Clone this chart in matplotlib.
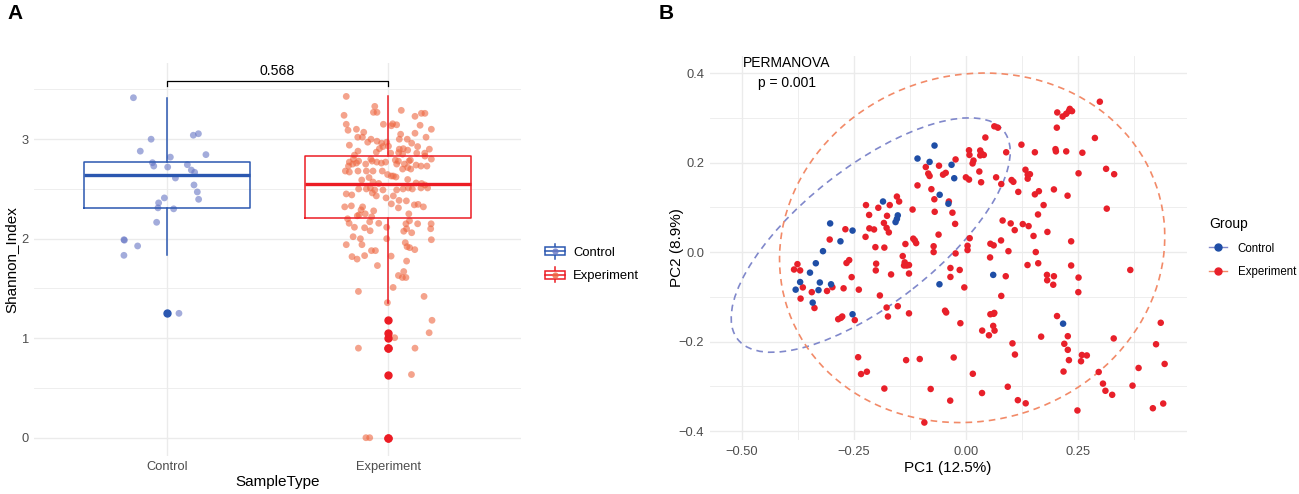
import numpy as np
import matplotlib
matplotlib.use("Agg")
import matplotlib.pyplot as plt
from matplotlib.patches import Ellipse, Rectangle, Patch
from matplotlib.lines import Line2D
from matplotlib.legend_handler import HandlerBase
from matplotlib.ticker import FuncFormatter

plt.rcParams['font.family'] = ['Liberation Sans', 'DejaVu Sans']

# ---------------- data: panel A (Shannon index) ----------------
groups = ["Control", "Experiment"]

# box statistics: (whislo, q1, med, q3, whishi)
ctrl_box = [1.833, 2.31, 2.64, 2.774, 3.417]
exp_box = [1.357, 2.208, 2.55, 2.834, 3.43]

# jittered samples: (jitter offset, Shannon index)
ctrl_pts = np.array([
    (-0.152, 3.417), (-0.072, 3.0), (-0.121, 2.88), (0.119, 3.04), (0.142, 3.055),
    (0.015, 2.82), (0.176, 2.845), (-0.066, 2.764), (-0.06, 2.73), (0.003, 2.72),
    (0.092, 2.744), (0.11, 2.69), (0.125, 2.667), (0.038, 2.61), (0.122, 2.54),
    (0.137, 2.47), (0.143, 2.396), (-0.012, 2.41), (-0.038, 2.36), (-0.041, 2.31),
    (0.03, 2.30), (-0.047, 2.165), (-0.195, 1.99), (-0.193, 1.985), (-0.133, 1.927),
    (-0.195, 1.833), (0.054, 1.25),
])

exp_pts = np.array([
    (-0.189, 3.43), (-0.060, 3.33), (-0.066, 3.27), (-0.050, 3.27), (0.060, 3.29),
    (-0.199, 3.24), (0.122, 3.23), (0.151, 3.26), (0.167, 3.26), (-0.021, 3.15),
    (0.021, 3.155), (0.039, 3.145), (0.015, 3.135), (-0.189, 3.15), (0.145, 3.14),
    (-0.181, 3.09), (-0.143, 3.10), (-0.110, 3.07), (0.196, 3.10), (0.122, 3.06),
    (-0.137, 3.02), (-0.116, 3.02), (0.057, 3.05), (0.172, 3.02), (-0.077, 3.00),
    (-0.092, 2.97), (-0.050, 2.98), (-0.029, 2.96), (-0.006, 2.97), (0.051, 3.00),
    (0.087, 3.00), (-0.175, 2.94), (0.002, 2.93), (0.107, 2.96), (-0.039, 2.905),
    (-0.023, 2.926), (0.134, 2.926), (0.051, 2.90), (0.069, 2.905), (0.089, 2.89),
    (0.187, 2.90), (-0.136, 2.88), (-0.152, 2.84), (-0.053, 2.87), (0.012, 2.86),
    (0.048, 2.865), (0.066, 2.85), (0.130, 2.86), (0.166, 2.86), (0.101, 2.79),
    (-0.157, 2.80), (0.167, 2.83), (-0.175, 2.77), (-0.078, 2.80), (0.196, 2.80),
    (-0.133, 2.78), (-0.160, 2.75), (-0.143, 2.76), (-0.179, 2.73), (-0.193, 2.68),
    (-0.175, 2.67), (-0.136, 2.68), (-0.101, 2.75), (-0.072, 2.78), (-0.051, 2.77),
    (-0.030, 2.76), (-0.011, 2.77), (0.033, 2.79), (0.047, 2.78), (0.039, 2.75),
    (0.074, 2.75), (0.095, 2.78), (0.103, 2.70), (0.127, 2.74), (0.149, 2.73),
    (0.176, 2.73), (-0.098, 2.68), (-0.068, 2.68), (-0.026, 2.68), (-0.002, 2.645),
    (0.066, 2.70), (0.089, 2.715), (0.024, 2.63), (0.015, 2.63), (0.036, 2.62),
    (-0.086, 2.615), (-0.119, 2.59), (-0.068, 2.57), (-0.042, 2.555), (0.089, 2.595),
    (0.127, 2.56), (0.152, 2.555), (0.167, 2.54), (0.149, 2.51), (0.179, 2.51),
    (-0.133, 2.50), (-0.098, 2.50), (-0.080, 2.51), (-0.060, 2.49), (-0.071, 2.46),
    (-0.023, 2.49), (0.039, 2.49), (0.068, 2.50), (0.092, 2.51), (0.110, 2.50),
    (-0.189, 2.45), (-0.164, 2.44), (-0.053, 2.43), (-0.009, 2.41), (0.024, 2.43),
    (0.050, 2.385), (0.083, 2.38), (-0.196, 2.32), (-0.166, 2.33), (-0.115, 2.32),
    (-0.122, 2.29), (0.015, 2.35), (0.047, 2.31), (0.119, 2.34), (0.136, 2.345),
    (0.160, 2.32), (-0.131, 2.24), (-0.139, 2.23), (-0.103, 2.25), (-0.074, 2.22),
    (-0.065, 2.28), (0.094, 2.25), (-0.183, 2.20), (-0.176, 2.155), (-0.083, 2.17),
    (-0.042, 2.155), (-0.152, 2.115), (-0.106, 2.11), (-0.081, 2.08), (-0.006, 2.115),
    (0.081, 2.15), (0.097, 2.18), (0.084, 2.10), (0.071, 2.075), (0.134, 2.15),
    (0.195, 2.15), (0.193, 2.10), (0.107, 2.06), (-0.158, 2.02), (-0.125, 2.00),
    (0.196, 1.99), (-0.006, 2.00), (-0.189, 1.94), (-0.118, 1.94), (0.078, 1.96),
    (0.086, 1.92), (0.098, 1.91), (0.121, 1.89), (-0.075, 1.88), (-0.057, 1.88),
    (-0.106, 1.83), (-0.163, 1.82), (-0.140, 1.795), (0.014, 1.825), (0.084, 1.775),
    (-0.048, 1.73), (0.071, 1.67), (0.047, 1.63), (0.065, 1.61), (0.081, 1.61),
    (-0.134, 1.47), (0.023, 1.51), (0.163, 1.42), (-0.003, 1.357), (0.199, 1.18),
    (0.186, 1.055), (0.030, 1.005), (-0.134, 0.90), (0.122, 0.90), (0.106, 0.635),
    (-0.100, 0.0), (-0.083, 0.0),
])

p_wilcox = "0.568"
bracket_y = 3.585

# ---------------- data: panel B (PCoA) ----------------
ctrl_pcoa = np.array([
    (-0.303, 0.064), (-0.253, 0.048), (-0.280, 0.024), (-0.319, 0.002), (-0.185, 0.113),
    (-0.157, 0.067), (-0.154, 0.074), (-0.152, 0.082), (-0.108, 0.209), (-0.081, 0.2015),
    (-0.070, 0.238), (-0.032, 0.195), (-0.026, 0.165), (-0.0585, 0.128), (-0.039, 0.108),
    (-0.335, -0.025), (-0.348, -0.046), (-0.370, -0.067), (-0.380, -0.084), (-0.326, -0.068),
    (-0.329, -0.085), (-0.301, -0.072), (-0.342, -0.113), (-0.253, -0.139), (-0.059, -0.072),
    (0.061, -0.051), (0.217, -0.160),
])

exp_pcoa = np.array([
    (0.299, 0.336), (0.204, 0.312), (0.216, 0.303), (0.224, 0.309), (0.232, 0.320),
    (0.237, 0.315), (0.230, 0.315), (0.203, 0.278), (0.0635, 0.281), (0.0715, 0.278),
    (0.0435, 0.256), (0.288, 0.255), (0.124, 0.240), (0.200, 0.230), (0.201, 0.225),
    (0.224, 0.225), (0.260, 0.222), (0.090, 0.223), (0.154, 0.223), (0.007, 0.2275),
    (0.008, 0.217), (0.032, 0.227), (0.035, 0.220), (0.040, 0.217), (0.032, 0.216),
    (0.015, 0.198), (0.017, 0.2045), (-0.023, 0.207), (-0.0895, 0.190), (-0.084, 0.1755),
    (-0.081, 0.170), (-0.060, 0.193), (-0.051, 0.173), (-0.045, 0.177), (0.030, 0.180),
    (0.0, 0.167), (0.007, 0.162), (0.034, 0.156), (0.0675, 0.167), (0.079, 0.152),
    (0.102, 0.161), (0.106, 0.157), (0.2515, 0.176), (0.313, 0.186), (0.331, 0.174),
    (0.133, 0.184), (0.138, 0.173), (0.143, 0.174), (0.138, 0.164), (0.117, 0.1345),
    (0.154, 0.129), (0.163, 0.136), (0.1965, 0.140), (0.227, 0.126), (0.3145, 0.097),
    (0.1735, 0.105), (0.161, 0.084), (-0.108, 0.149), (-0.077, 0.1405), (-0.0704, 0.118),
    (-0.0696, 0.090), (-0.038, 0.113), (-0.030, 0.088), (-0.024, 0.063), (-0.154, 0.124),
    (-0.149, 0.113), (-0.170, 0.105), (-0.176, 0.081), (-0.1955, 0.099), (-0.223, 0.105),
    (-0.216, 0.083), (-0.183, 0.065), (-0.177, 0.054), (-0.172, 0.044), (-0.2155, 0.053),
    (-0.205, 0.0505), (-0.224, 0.034), (-0.119, 0.095), (-0.1175, 0.030), (-0.114, 0.026),
    (-0.111, 0.020), (-0.135, 0.018), (-0.202, 0.011), (-0.182, 0.010), (-0.061, 0.039),
    (-0.072, 0.013), (-0.072, 0.0), (-0.269, 0.051), (-0.304, 0.028), (0.082, 0.0705),
    (0.100, 0.064), (0.127, 0.0625), (0.140, 0.058), (0.109, 0.049), (0.182, 0.045),
    (0.151, 0.036), (0.235, 0.024), (0.0785, 0.026), (0.0547, 0.0186), (0.062, 0.015),
    (0.0085, 0.031), (0.0037, 0.014), (0.0037, 0.0045), (-0.023, -0.003), (0.095, 0.002),
    (0.156, 0.0),
    (-0.3836, -0.039), (-0.376, -0.027), (-0.370, -0.041), (-0.364, -0.079), (-0.369, -0.104),
    (-0.344, -0.0896), (-0.338, -0.125), (-0.310, -0.087), (-0.298, -0.0785), (-0.2665, -0.0244),
    (-0.2605, -0.018), (-0.255, -0.056), (-0.273, -0.081), (-0.239, -0.084), (-0.285, -0.150),
    (-0.279, -0.147), (-0.276, -0.144), (-0.248, -0.152), (-0.2003, -0.026), (-0.2011, -0.041),
    (-0.167, -0.050), (-0.192, -0.097), (-0.177, -0.124), (-0.174, -0.144), (-0.152, -0.121),
    (-0.141, -0.009), (-0.1366, -0.023), (-0.138, -0.030), (-0.132, -0.030), (-0.127, -0.029),
    (-0.127, -0.048), (-0.127, -0.137), (-0.0465, -0.131), (-0.044, -0.135), (-0.0345, -0.0356),
    (-0.0345, -0.0556), (-0.0138, -0.040), (-0.0035, -0.079), (-0.0123, -0.159), (0.054, -0.012),
    (0.0547, -0.139), (0.062, -0.138), (0.0635, -0.136), (0.061, -0.165), (0.064, -0.1755),
    (0.0364, -0.1755), (0.0515, -0.186), (0.079, -0.098), (0.089, -0.054), (0.1376, -0.029),
    (0.1615, -0.025), (0.181, -0.051), (0.1815, -0.063), (0.1965, -0.054), (0.195, -0.073),
    (0.168, -0.189), (0.2035, -0.143), (0.235, -0.030), (0.2515, -0.057), (0.251, -0.0896),
    (0.367, -0.040), (0.435, -0.158), (0.330, -0.193), (0.104, -0.204), (0.1095, -0.229),
    (0.2275, -0.188), (0.2197, -0.205), (0.2275, -0.2185), (0.230, -0.2415), (0.218, -0.267),
    (0.259, -0.230), (0.270, -0.231), (0.257, -0.244), (0.2965, -0.268), (0.306, -0.294),
    (0.3115, -0.310), (0.3266, -0.319), (0.249, -0.354), (0.3855, -0.259), (0.372, -0.2985),
    (0.4174, -0.349), (0.4405, -0.3385), (0.4245, -0.206), (0.4437, -0.250), (0.116, -0.331),
    (0.1335, -0.338), (0.0935, -0.301), (0.036, -0.315), (0.0155, -0.272), (-0.035, -0.332),
    (-0.0786, -0.306), (-0.0927, -0.381), (-0.0272, -0.2356), (-0.103, -0.239), (-0.1334, -0.2415),
    (-0.182, -0.305), (-0.2405, -0.235), (-0.234, -0.2726), (-0.221, -0.2674),
])

# 95% ellipses: centre x, centre y, semi-axis a, semi-axis b, angle (deg)
ctrl_ellipse = (-0.2125, 0.038, 0.3773, 0.1526, 38.1)
exp_ellipse = (0.014, 0.0095, 0.4338, 0.3863, 16.9)

permanova_p = "0.001"
pc1_var = 12.5
pc2_var = 8.9

# ---------------- styling ----------------
box_col = {"Control": "#2B57B0", "Experiment": "#EC1C24"}
jit_col = {"Control": "#6675C4", "Experiment": "#EE6640"}
pt_col = {"Control": "#1F4EA6", "Experiment": "#E8202A"}
ell_col = {"Control": "#8088CB", "Experiment": "#F28A68"}
grid_col = "#EBEBEB"
tick_col = "#4D4D4D"


def minimal_theme(ax):
    for s in ax.spines.values():
        s.set_visible(False)
    ax.tick_params(which="both", length=0, labelsize=9.3, labelcolor=tick_col, pad=4)
    ax.grid(True, which="major", color=grid_col, lw=1.0, zorder=0)
    ax.grid(True, which="minor", color=grid_col, lw=0.6, zorder=0)
    ax.set_axisbelow(True)


class BoxKey(HandlerBase):
    def create_artists(self, legend, orig_handle, xd, yd, w, h, fs, trans):
        ec = orig_handle.get_edgecolor()
        fc = orig_handle.get_facecolor()
        x0, y0 = -xd, -yd
        cx, cy = x0 + w / 2, y0 + h / 2
        whisk = Line2D([cx, cx], [y0 - 0.3 * h, y0 + 1.3 * h], color=ec, lw=1.1, transform=trans)
        box = Rectangle((x0, y0 + 0.05 * h), w, 0.9 * h, facecolor="white", edgecolor=ec,
                        lw=1.1, transform=trans)
        med = Line2D([x0, x0 + w], [cy, cy], color=ec, lw=1.1, transform=trans)
        dot = Line2D([cx], [cy], marker="o", ms=4.5, mfc=fc, mec="none", ls="none",
                     alpha=0.8, transform=trans)
        return [whisk, box, med, dot]


fig = plt.figure(figsize=(12.99, 4.94), dpi=100)

# ---------------- panel A ----------------
ax1 = fig.add_axes([0.0265, 0.0779, 0.3743, 0.7946])
minimal_theme(ax1)

for i, (g, pts, stats) in enumerate([("Control", ctrl_pts, ctrl_box),
                                     ("Experiment", exp_pts, exp_box)]):
    pos = i + 1
    lo, q1, med, q3, hi = stats
    vals = pts[:, 1]
    fliers = vals[(vals < lo) | (vals > hi)]
    ax1.scatter(pos + pts[:, 0], vals, s=24, color=jit_col[g], alpha=0.6,
                edgecolors="none", zorder=2)
    ax1.bxp([dict(med=med, q1=q1, q3=q3, whislo=lo, whishi=hi, fliers=fliers)],
            positions=[pos], widths=0.75, showcaps=False, patch_artist=False,
            boxprops=dict(color=box_col[g], lw=1.1),
            whiskerprops=dict(color=box_col[g], lw=1.1),
            medianprops=dict(color=box_col[g], lw=2.4),
            flierprops=dict(marker="o", ms=5, mfc=box_col[g], mec=box_col[g]),
            manage_ticks=False, zorder=3)

ax1.plot([1, 1, 2, 2], [bracket_y - 0.05, bracket_y, bracket_y, bracket_y - 0.05],
         color="black", lw=0.9, zorder=4)
ax1.text(1.5, bracket_y + 0.035, p_wilcox, ha="center", va="bottom", fontsize=10.2)

ax1.set_xlim(0.4, 2.6)
ax1.set_ylim(-0.179, 3.766)
ax1.set_xticks([1, 2])
ax1.set_xticklabels(groups)
ax1.set_yticks([0, 1, 2, 3])
ax1.set_yticks([0.5, 1.5, 2.5, 3.5], minor=True)
ax1.set_xlabel("SampleType", fontsize=11)
ax1.set_ylabel("Shannon_Index", fontsize=11)
ax1.xaxis.set_label_coords(0.5, -0.05)
ax1.yaxis.set_label_coords(-0.033, 0.5)

handles1 = [Patch(edgecolor=box_col[g], facecolor=jit_col[g]) for g in groups]
fig.legend(handles1, groups, handler_map={Patch: BoxKey()}, loc="center left",
           bbox_to_anchor=(545 / 1299, 1 - 264.5 / 494), frameon=False, fontsize=9.4,
           handlelength=1.53, handleheight=0.7, handletextpad=0.62, labelspacing=0.85,
           borderpad=0, borderaxespad=0)

# ---------------- panel B ----------------
ax2 = fig.add_axes([0.5463, 0.1093, 0.3671, 0.7781])
minimal_theme(ax2)

for g, pts, ell in [("Control", ctrl_pcoa, ctrl_ellipse),
                    ("Experiment", exp_pcoa, exp_ellipse)]:
    cx, cy, a, b, ang = ell
    ax2.add_patch(Ellipse((cx, cy), 2 * a, 2 * b, angle=ang, fill=False,
                          edgecolor=ell_col[g], lw=1.2, ls=(0, (4, 3)), zorder=2))

ax2.scatter(exp_pcoa[:, 0], exp_pcoa[:, 1], s=22, color=pt_col["Experiment"],
            edgecolors="none", zorder=3)
ax2.scatter(ctrl_pcoa[:, 0], ctrl_pcoa[:, 1], s=22, color=pt_col["Control"],
            edgecolors="none", zorder=3)

ax2.text(-0.40, 0.40, "PERMANOVA\np = " + permanova_p, ha="center", va="center",
         fontsize=10, linespacing=1.5)

ax2.set_xlim(-0.572, 0.4925)
ax2.set_ylim(-0.42, 0.439)
ax2.set_xticks([-0.5, -0.25, 0.0, 0.25])
ax2.set_xticks([-0.375, -0.125, 0.125, 0.375], minor=True)
ax2.set_yticks([-0.4, -0.2, 0.0, 0.2, 0.4])
ax2.set_yticks([-0.3, -0.1, 0.1, 0.3], minor=True)
ax2.xaxis.set_major_formatter(FuncFormatter(lambda v, p: f"{v:.2f}".replace("-", "\u2212")))
ax2.yaxis.set_major_formatter(FuncFormatter(lambda v, p: f"{v:.1f}".replace("-", "\u2212")))
ax2.set_xlabel(f"PC1 ({pc1_var}%)", fontsize=11)
ax2.set_ylabel(f"PC2 ({pc2_var}%)", fontsize=11)
ax2.xaxis.set_label_coords(0.5, -0.055)
ax2.yaxis.set_label_coords(-0.054, 0.5)

handles2 = [Line2D([], [], color=ell_col[g], lw=1.0, marker="o", ms=5,
                   mfc=pt_col[g], mec=pt_col[g]) for g in groups]
fig.legend(handles2, groups, title="Group", loc="upper left",
           bbox_to_anchor=(1209 / 1299, 1 - 217 / 494), frameon=False, fontsize=8.3,
           title_fontsize=10, alignment="left", handlelength=1.57, handletextpad=0.93,
           labelspacing=1.0, borderpad=0, borderaxespad=0)

fig.text(7 / 1299, 1 - 4 / 494, "A", ha="left", va="top", fontsize=15, fontweight="bold")
fig.text(659 / 1299, 1 - 4 / 494, "B", ha="left", va="top", fontsize=15, fontweight="bold")

fig.savefig("out.png", dpi=100)
